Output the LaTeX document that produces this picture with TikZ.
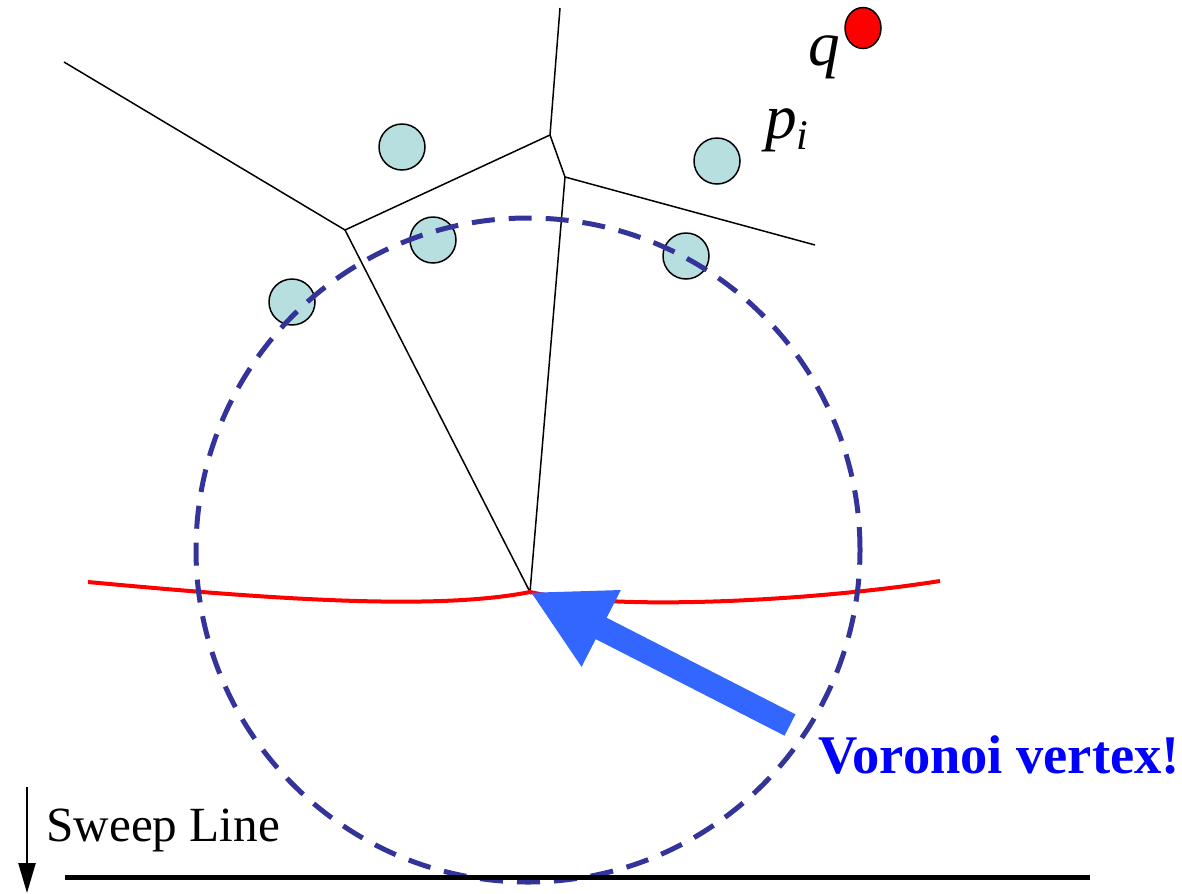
\documentclass[tikz,border=0pt]{standalone}
\usepackage{fontspec}
\setmainfont{Liberation Serif}
\usetikzlibrary{arrows.meta,shapes.geometric}

\definecolor{sitefill}{HTML}{B8DFE0}
\definecolor{circblue}{HTML}{333399}
\definecolor{arrowblue}{HTML}{3366FF}

\begin{document}
\begin{tikzpicture}[x=0.02cm,y=0.02cm,>=Latex,
 site/.style={circle,draw,line width=0.03cm,fill=sitefill,minimum size=0.92cm,inner sep=0pt},
 edge/.style={line width=0.03cm,black},
 beach/.style={line width=0.08cm,red},
 event/.style={line width=0.1cm,circblue,dash pattern=on 0.46cm off 0.28cm},
 pointer/.style={-{Triangle[length=1.6cm,width=1.6cm]},line width=0.48cm,arrowblue},
 label/.style={font=\fontsize{36}{40}\selectfont\itshape,inner sep=0pt}]
\useasboundingbox (0,0) rectangle (1182,-893);
% voronoi vertices
\coordinate (va) at (345,-230);
\coordinate (vb) at (550,-135);
\coordinate (vc) at (565,-177);
\coordinate (vv) at (530,-592);
\coordinate (e1) at (64,-62);
\coordinate (e2) at (560,-8);
\coordinate (e3) at (815,-245);
\draw[edge] (e1) -- (va) -- (vb) -- (e2);
\draw[edge] (vb) -- (vc) -- (e3);
\draw[edge] (va) -- (vv) -- (vc);
% sites
\node[site] (s1) at (402,-147) {};
\node[site] (s2) at (717,-161) {};
\node[site] (s3) at (433,-240) {};
\node[site] (s4) at (686,-256) {};
\node[site] (s5) at (292,-302) {};
\node[ellipse,draw,line width=0.03cm,fill=red,minimum width=0.72cm,minimum height=0.82cm,inner sep=0pt] (q) at (863,-28) {};
\node[label] (ql) at (824,-57) {q};
\node[label] (pl) at (787,-130) {p\raisebox{-0.4ex}{\fontsize{24}{24}\selectfont i}};
% beach line
\draw[beach] (88,-582) .. controls (250,-597) and (430,-612) .. (vv)
 .. controls (620,-612) and (820,-600) .. (940,-581);
% circle event
\draw[event] (528,-550) circle[radius=332];
% pointer
\coordinate (ptail) at (790,-725);
\draw[pointer] (ptail) -- (vv);
\node[font=\fontsize{31}{36}\selectfont\bfseries,text=blue,inner sep=0pt] (vtext) at (999,-755) {Voronoi vertex!};
% sweep line
\coordinate (sl1) at (65,-877);
\coordinate (sl2) at (1090,-877);
\draw[line width=0.1cm] (sl1) -- (sl2);
\coordinate (sa1) at (27,-787);
\coordinate (sa2) at (27,-893);
\draw[-{Triangle[length=0.6cm,width=0.34cm]},line width=0.05cm] (sa1) -- (sa2);
\node[font=\fontsize{28}{34}\selectfont,anchor=west,inner sep=0pt] (stext) at (46,-830) {Sweep Line};
\end{tikzpicture}
\end{document}
